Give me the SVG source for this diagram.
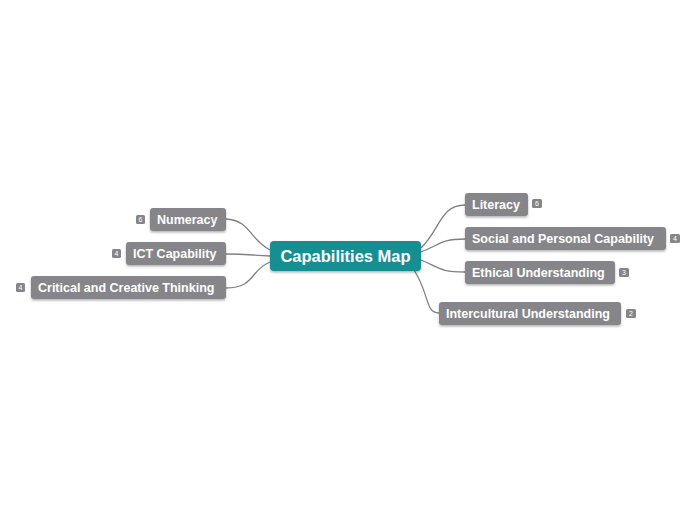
<svg xmlns="http://www.w3.org/2000/svg" width="696" height="520" viewBox="0 0 696 520">
<style>
.n{fill:#86868a;filter:url(#sh)}
.t{font-family:"Liberation Sans",Arial,sans-serif;font-weight:bold;font-size:12.5px;fill:#fff}
.b{fill:#86868a}
.bt{font-family:"Liberation Sans",Arial,sans-serif;font-size:7px;fill:#fff;text-anchor:middle}
.c{fill:none;stroke:#808080;stroke-width:1.3}
</style>
<defs><filter id="sh" x="-10%" y="-20%" width="120%" height="150%"><feDropShadow dx="0" dy="1.5" stdDeviation="1" flood-color="#000" flood-opacity="0.3"/></filter></defs>
<g id="connectors">
<path class="c" d="M270,250 C250,240 250,220 226,219"/>
<path class="c" d="M270,256 C250,255 245,254 226,254"/>
<path class="c" d="M270,262 C250,270 255,288 226,288"/>
<path class="c" d="M421,248 C440,230 440,205 465,205"/>
<path class="c" d="M421,252 C440,245 440,239 465,239"/>
<path class="c" d="M421,260 C440,268 440,272 465,272"/>
<path class="c" d="M414,270 C430,295 425,313 439,313"/>
</g>
<g id="center"><rect x="270" y="241" width="151" height="30" rx="4" fill="#138f93" filter="url(#sh)"/><text x="345.5" y="262" text-anchor="middle" font-family="Liberation Sans,Arial,sans-serif" font-weight="bold" font-size="16.5" fill="#fff">Capabilities Map</text></g>
<g id="numeracy"><rect class="n" x="150" y="208" width="76" height="23" rx="3"/><text class="t" x="157" y="224">Numeracy</text><rect class="b" x="136" y="215" width="9" height="9" rx="1.5"/><text class="bt" x="140.5" y="222">6</text></g>
<g id="ict"><rect class="n" x="126" y="242" width="100" height="23" rx="3"/><text class="t" x="133" y="258">ICT Capability</text><rect class="b" x="112" y="249" width="9" height="9" rx="1.5"/><text class="bt" x="116.5" y="256">4</text></g>
<g id="critical"><rect class="n" x="31" y="276" width="195" height="23" rx="3"/><text class="t" x="38" y="292">Critical and Creative Thinking</text><rect class="b" x="16" y="283" width="9" height="9" rx="1.5"/><text class="bt" x="20.5" y="290">4</text></g>
<g id="literacy"><rect class="n" x="465" y="193" width="63" height="23" rx="3"/><text class="t" x="472" y="209">Literacy</text><rect class="b" x="532" y="199" width="10" height="9" rx="1.5"/><text class="bt" x="537" y="206">6</text></g>
<g id="social"><rect class="n" x="465" y="227" width="201" height="23" rx="3"/><text class="t" x="472" y="243">Social and Personal Capability</text><rect class="b" x="670" y="234" width="10" height="9" rx="1.5"/><text class="bt" x="675" y="241">4</text></g>
<g id="ethical"><rect class="n" x="465" y="261" width="150" height="23" rx="3"/><text class="t" x="472" y="277">Ethical Understanding</text><rect class="b" x="619" y="268" width="10" height="9" rx="1.5"/><text class="bt" x="624" y="275">3</text></g>
<g id="intercultural"><rect class="n" x="439" y="302" width="182" height="23" rx="3"/><text class="t" x="446" y="318">Intercultural Understanding</text><rect class="b" x="626" y="309" width="10" height="9" rx="1.5"/><text class="bt" x="631" y="316">2</text></g>
</svg>
